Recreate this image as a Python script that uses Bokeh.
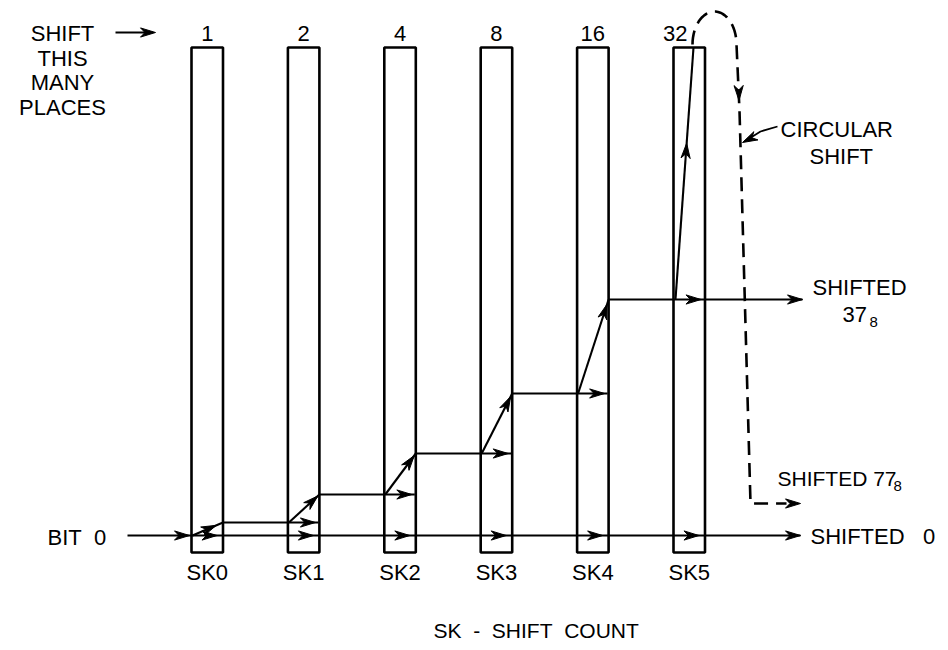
import numpy as np
from bokeh.plotting import figure
from bokeh.models import Range1d, ColumnDataSource
from bokeh.core.properties import value
from bokeh.embed import file_html
from bokeh.resources import INLINE

# ---------------- data ----------------
shift_places = ["1", "2", "4", "8", "16", "32"]          # places shifted by each stage
stage_labels = ["SK0", "SK1", "SK2", "SK3", "SK4", "SK5"]  # shift-count bits
path_level = [0, 1, 3, 7, 15, 31]                          # accumulated shift entering each stage
left_caption = ["SHIFT", "THIS", "MANY", "PLACES"]
input_label = "BIT\u00a0\u00a00"
axis_title = "SK\u00a0\u00a0-\u00a0\u00a0SHIFT\u00a0\u00a0COUNT"
out_labels = ["SHIFTED\u00a0\u00a0\u00a00", "SHIFTED", "37", "SHIFTED\u00a077"]
circ_label = ["CIRCULAR", "SHIFT"]

# ---------------- layout (page pixels) ----------------
X0, PITCH, BW = 191, 96.4, 31.5
TOP, BOT, BASE = 47, 552, 535
LEVEL_Y = {0: 535, 1: 522, 3: 494, 7: 453, 15: 393, 31: 299}
FONT = value("Liberation Sans")
W, H = 940, 642

xl = [X0 + i * PITCH for i in range(len(stage_labels))]
xr = [x + BW for x in xl]
xc = [x + BW / 2 for x in xl]

p = figure(width=W, height=H, x_range=Range1d(0, W), y_range=Range1d(H, 0),
           output_backend="svg", toolbar_location=None, min_border=0,
           x_axis_type=None, y_axis_type=None)
p.grid.visible = False
p.outline_line_color = None
p.background_fill_color = "white"

# boxes
p.quad(left=xl, right=xr, top=[TOP] * 6, bottom=[BOT] * 6,
       fill_color=None, line_color="black", line_width=2.6)

# solid flow lines
sx0, sy0, sx1, sy1 = [], [], [], []
def seg(a, b, c, d):
    sx0.append(a); sy0.append(b); sx1.append(c); sy1.append(d)

seg(127, BASE, 800, BASE)            # bit 0 through all stages
seg(115, 32, 152, 32)                # "SHIFT ->" pointer
n = len(stage_labels)
for k in range(n - 1):
    y = LEVEL_Y[path_level[k + 1]]
    seg(xr[k], y, (xr[k + 1] - 1) if k < n - 2 else 802, y)
diag = []
for k in range(n - 1):
    a = (xl[k] + 1, LEVEL_Y[path_level[k]]); b = (xr[k], LEVEL_Y[path_level[k + 1]])
    diag.append((a, b)); seg(a[0], a[1], b[0], b[1])
a5 = (xl[5] + 2, LEVEL_Y[path_level[5]]); b5 = (xl[5] + 20, TOP)
diag.append((a5, b5)); seg(a5[0], a5[1], b5[0], b5[1])
p.segment(x0=sx0, y0=sy0, x1=sx1, y1=sy1, line_color="black", line_width=2.1)

# circular-shift pointer
p.line([777, 760, 744], [126, 131, 141], line_color="black", line_width=1.8)

# dashed circular path
th = np.linspace(np.pi, 0, 30)
ax = 714 + 22 * np.cos(th)
ay = 44 - 33 * np.sin(th)
dx = list(ax) + [739, 750, 750, 786]
dy = list(ay) + [110, 503, 503, 503]
p.line(dx, dy, line_color="black", line_width=2.6, line_dash="14 8")

# arrowheads
heads = []
def head(tx, ty, ux, uy, L=15, Wd=4.6, N=4.5):
    m = np.hypot(ux, uy); ux, uy = ux / m, uy / m
    nx, ny = -uy, ux
    bx, by = tx - L * ux, ty - L * uy
    heads.append(([tx, bx + Wd * nx, tx - (L - N) * ux, bx - Wd * nx],
                  [ty, by + Wd * ny, ty - (L - N) * uy, by - Wd * ny]))

head(189, BASE, 1, 0)
head(155, 32, 1, 0)
for k in range(n):
    head(xr[k] - 6, BASE, 1, 0)
    if k >= 1:
        head(xr[k] - 4, LEVEL_Y[path_level[k]], 1, 0)
for k, (a, b) in enumerate(diag):
    t = 0.78 if k == 0 else (0.62 if k == n - 1 else 0.95)
    head(a[0] + t * (b[0] - a[0]), a[1] + t * (b[1] - a[1]), b[0] - a[0], b[1] - a[1])
head(800, BASE, 1, 0)
head(802, LEVEL_Y[31], 1, 0)
head(800, 503, 1, 0)
head(738.5, 100, 11, 461)
head(742, 142, -1, 0.5)
p.patches(xs=[h[0] for h in heads], ys=[h[1] for h in heads],
          fill_color="black", line_color="black", line_width=1)

# texts
T = dict(x=[], y=[], text=[], align=[], size=[])
def txt(x, y, s, align="center", size="22px"):
    T["x"].append(x); T["y"].append(y); T["text"].append(s)
    T["align"].append(align); T["size"].append(size)

for i, s in enumerate(shift_places):
    txt(xc[i] - (14 if i == n - 1 else 0), 33, s)
for i, s in enumerate(stage_labels):
    txt(xc[i], 572, s)
for i, s in enumerate(left_caption):
    txt(62, 33 + 24.5 * i, s)
txt(47, 537, input_label, "left")
txt(433, 630, axis_title, "left", "21px")
txt(810, 536, out_labels[0], "left")
txt(812, 287, out_labels[1], "left")
txt(842, 314, out_labels[2], "left")
txt(869, 321, "8", "left", "15px")
txt(777, 478, out_labels[3], "left", "21px")
txt(893, 485, "8", "left", "15px")
txt(780, 129, circ_label[0], "left")
txt(809, 156, circ_label[1], "left")

src = ColumnDataSource(T)
p.text(x="x", y="y", text="text", source=src, text_align="align",
       text_baseline="middle", text_font=FONT, text_font_size="size",
       text_color="black")

open("out.html", "w").write(file_html(p, INLINE))
